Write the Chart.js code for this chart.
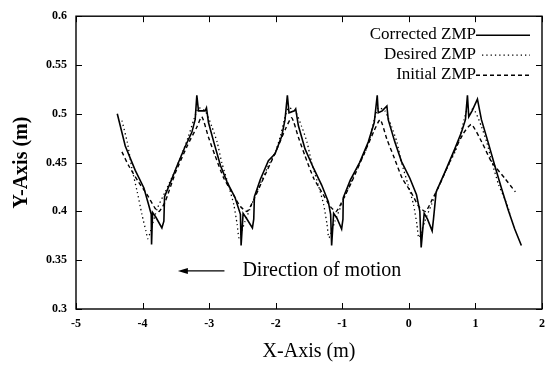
<!DOCTYPE html>
<html>
<head>
<meta charset="utf-8">
<script src="https://cdn.jsdelivr.net/npm/chart.js@4.4.0/dist/chart.umd.min.js"></script>
<style>
  html, body { margin: 0; padding: 0; background: #fff; }
  #wrap { position: relative; width: 553px; height: 365px; }
</style>
</head>
<body>
<div id="wrap"><canvas id="zmpChart" width="553" height="365"></canvas></div>
<script>
// Corrected ZMP (linea continua)
const correctedX = [-4.38, -4.26, -4.11, -3.98, -3.91, -3.87, -3.865, -3.85, -3.80, -3.71, -3.68, -3.67, -3.58, -3.48, -3.37, -3.26, -3.21, -3.185, -3.16, -3.06, -3.04, -3.01, -2.93, -2.83, -2.73, -2.61, -2.53, -2.52, -2.49, -2.44, -2.35, -2.33, -2.32, -2.23, -2.11, -2.01, -1.91, -1.86, -1.825, -1.80, -1.72, -1.70, -1.66, -1.56, -1.43, -1.31, -1.21, -1.175, -1.16, -1.13, -1.08, -1.01, -0.99, -0.985, -0.88, -0.74, -0.61, -0.52, -0.475, -0.46, -0.40, -0.33, -0.31, -0.21, -0.11, 0.015, 0.115, 0.165, 0.185, 0.23, 0.28, 0.35, 0.37, 0.41, 0.54, 0.69, 0.79, 0.85, 0.88, 0.90, 0.95, 1.03, 1.09, 1.19, 1.29, 1.39, 1.49, 1.59, 1.69];
const correctedY = [0.500, 0.467, 0.442, 0.424, 0.407, 0.397, 0.366, 0.399, 0.394, 0.383, 0.390, 0.415, 0.430, 0.447, 0.465, 0.481, 0.494, 0.519, 0.503, 0.503, 0.506, 0.491, 0.471, 0.447, 0.430, 0.414, 0.397, 0.365, 0.398, 0.393, 0.383, 0.392, 0.415, 0.433, 0.452, 0.459, 0.477, 0.494, 0.519, 0.501, 0.503, 0.505, 0.488, 0.464, 0.444, 0.427, 0.410, 0.397, 0.365, 0.398, 0.393, 0.382, 0.392, 0.414, 0.432, 0.450, 0.471, 0.491, 0.519, 0.501, 0.503, 0.508, 0.494, 0.471, 0.451, 0.434, 0.417, 0.400, 0.363, 0.398, 0.392, 0.380, 0.392, 0.420, 0.440, 0.464, 0.481, 0.494, 0.519, 0.497, 0.503, 0.515, 0.494, 0.471, 0.447, 0.424, 0.402, 0.382, 0.365];

// Desired ZMP (punteada)
const desiredX = [-4.31, -4.23, -4.16, -4.08, -4.01, -3.95, -3.92, -3.88, -3.78, -3.66, -3.51, -3.38, -3.31, -3.23, -3.16, -3.06, -2.96, -2.88, -2.81, -2.71, -2.63, -2.58, -2.55, -2.46, -2.36, -2.26, -2.13, -2.00, -1.93, -1.87, -1.81, -1.71, -1.61, -1.53, -1.46, -1.36, -1.28, -1.23, -1.20, -1.11, -1.01, -0.91, -0.78, -0.65, -0.58, -0.52, -0.46, -0.36, -0.26, -0.18, -0.11, -0.01, 0.07, 0.12, 0.15, 0.24, 0.34, 0.44, 0.57, 0.70, 0.77, 0.83, 0.89, 0.99, 1.09, 1.17, 1.25, 1.35, 1.44, 1.52];
const desiredY = [0.493, 0.471, 0.444, 0.420, 0.397, 0.380, 0.372, 0.380, 0.403, 0.420, 0.442, 0.464, 0.477, 0.494, 0.506, 0.503, 0.487, 0.471, 0.450, 0.427, 0.407, 0.387, 0.373, 0.390, 0.407, 0.424, 0.444, 0.462, 0.477, 0.494, 0.506, 0.503, 0.487, 0.471, 0.450, 0.427, 0.407, 0.387, 0.373, 0.390, 0.407, 0.424, 0.444, 0.462, 0.477, 0.494, 0.506, 0.503, 0.487, 0.471, 0.450, 0.427, 0.407, 0.387, 0.373, 0.390, 0.407, 0.424, 0.444, 0.462, 0.477, 0.494, 0.506, 0.503, 0.487, 0.471, 0.450, 0.427, 0.413, 0.398];

// Initial ZMP (discontinua)
const initialX = [-4.31, -4.21, -4.06, -3.93, -3.81, -3.75, -3.66, -3.51, -3.33, -3.18, -3.11, -3.01, -2.91, -2.78, -2.66, -2.53, -2.43, -2.33, -2.21, -2.00, -1.85, -1.76, -1.66, -1.56, -1.43, -1.31, -1.18, -1.09, -0.99, -0.86, -0.66, -0.52, -0.43, -0.33, -0.22, -0.10, 0.03, 0.15, 0.25, 0.35, 0.48, 0.68, 0.82, 0.94, 1.11, 1.24, 1.44, 1.60];
const initialY = [0.461, 0.447, 0.430, 0.417, 0.403, 0.400, 0.410, 0.439, 0.467, 0.487, 0.497, 0.476, 0.457, 0.434, 0.420, 0.405, 0.400, 0.412, 0.430, 0.461, 0.485, 0.496, 0.476, 0.457, 0.434, 0.420, 0.405, 0.400, 0.412, 0.430, 0.461, 0.483, 0.494, 0.474, 0.455, 0.434, 0.420, 0.405, 0.400, 0.412, 0.430, 0.461, 0.480, 0.489, 0.469, 0.451, 0.434, 0.420];

const seriesNames = ['Corrected ZMP', 'Desired ZMP', 'Initial ZMP'];
const xTicks = [-5, -4, -3, -2, -1, 0, 1, 2];
const yTicks = [0.3, 0.35, 0.4, 0.45, 0.5, 0.55, 0.6];
const annotationText = 'Direction of motion';

const serif = "'Liberation Serif', 'DejaVu Serif', serif";

function toPoints(xs, ys) {
    return xs.map((x, i) => ({ x: x, y: ys[i] }));
}

// Marco y marcas hacia dentro (estilo gnuplot)
const framePlugin = {
    id: 'frame',
    afterDatasetsDraw(chart) {
        const ctx = chart.ctx;
        const a = chart.chartArea;
        const xs = chart.scales.x;
        const ys = chart.scales.y;
        const len = 6;
        ctx.save();
        ctx.strokeStyle = '#000';
        ctx.lineWidth = 1;
        ctx.beginPath();
        xTicks.forEach(v => {
            const px = Math.round(xs.getPixelForValue(v)) + 0.5;
            ctx.moveTo(px, a.bottom); ctx.lineTo(px, a.bottom - len);
            ctx.moveTo(px, a.top); ctx.lineTo(px, a.top + len);
        });
        yTicks.forEach(v => {
            const py = Math.round(ys.getPixelForValue(v)) + 0.5;
            ctx.moveTo(a.left, py); ctx.lineTo(a.left + len, py);
            ctx.moveTo(a.right, py); ctx.lineTo(a.right - len, py);
        });
        ctx.stroke();
        ctx.lineWidth = 1.4;
        ctx.strokeRect(a.left, a.top, a.right - a.left, a.bottom - a.top);
        ctx.restore();
    }
};

// Leyenda: texto a la izquierda y muestra de linea a la derecha
const legendPlugin = {
    id: 'gnuLegend',
    afterDatasetsDraw(chart) {
        const ctx = chart.ctx;
        const a = chart.chartArea;
        const textRight = a.right - 66;
        const lineStart = a.right - 66;
        const lineEnd = a.right - 12;
        const rowY = [a.top + 18, a.top + 38, a.top + 58];
        ctx.save();
        ctx.font = '17px ' + serif;
        ctx.textAlign = 'right';
        ctx.textBaseline = 'middle';
        chart.data.datasets.forEach((ds, i) => {
            ctx.fillStyle = '#000';
            ctx.fillText(ds.label, textRight, rowY[i]);
            ctx.strokeStyle = ds.borderColor;
            ctx.lineWidth = ds.borderWidth;
            ctx.setLineDash(ds.borderDash || []);
            ctx.beginPath();
            ctx.moveTo(lineStart + (i === 1 ? 6 : 0), rowY[i] + 1);
            ctx.lineTo(lineEnd, rowY[i] + 1);
            ctx.stroke();
        });
        ctx.restore();
    }
};

// Flecha con "Direction of motion"
const arrowPlugin = {
    id: 'arrowNote',
    afterDatasetsDraw(chart) {
        const ctx = chart.ctx;
        const xs = chart.scales.x;
        const ys = chart.scales.y;
        const y = ys.getPixelForValue(0.339);
        const x0 = xs.getPixelForValue(-2.77);
        const x1 = xs.getPixelForValue(-3.47);
        ctx.save();
        ctx.strokeStyle = '#000';
        ctx.fillStyle = '#000';
        ctx.lineWidth = 1.2;
        ctx.beginPath();
        ctx.moveTo(x0, y);
        ctx.lineTo(x1 + 4, y);
        ctx.stroke();
        ctx.beginPath();
        ctx.moveTo(x1, y);
        ctx.lineTo(x1 + 10, y - 3);
        ctx.lineTo(x1 + 10, y + 3);
        ctx.closePath();
        ctx.fill();
        ctx.font = '20px ' + serif;
        ctx.textAlign = 'left';
        ctx.textBaseline = 'middle';
        ctx.fillText(annotationText, xs.getPixelForValue(-2.5), y);
        ctx.restore();
    }
};

const tickLabel = (v) => String(+Number(v).toFixed(2));

const ctx = document.getElementById('zmpChart');
new Chart(ctx, {
    type: 'scatter',
    data: {
        datasets: [{
            label: seriesNames[0],
            data: toPoints(correctedX, correctedY),
            showLine: true,
            borderColor: '#000',
            borderWidth: 1.6,
            pointRadius: 0,
            tension: 0
        }, {
            label: seriesNames[1],
            data: toPoints(desiredX, desiredY),
            showLine: true,
            borderColor: '#000',
            borderWidth: 1.3,
            borderDash: [1.3, 3],
            pointRadius: 0,
            tension: 0.2
        }, {
            label: seriesNames[2],
            data: toPoints(initialX, initialY),
            showLine: true,
            borderColor: '#000',
            borderWidth: 1.4,
            borderDash: [4, 3],
            pointRadius: 0,
            tension: 0.2
        }]
    },
    options: {
        responsive: false,
        animation: false,
        layout: {
            padding: { top: 12, right: 10, left: 0, bottom: 0 }
        },
        plugins: {
            legend: { display: false },
            tooltip: { enabled: false }
        },
        scales: {
            x: {
                type: 'linear',
                min: -5,
                max: 2,
                afterBuildTicks: (scale) => { scale.ticks = xTicks.map(v => ({ value: v })); },
                afterFit: (scale) => { scale.height = 56; },
                grid: { display: false, drawTicks: false },
                border: { display: false },
                ticks: {
                    padding: 8,
                    color: '#000',
                    callback: tickLabel,
                    font: { family: serif, size: 12, weight: 'bold' }
                },
                title: {
                    display: true,
                    text: 'X-Axis (m)',
                    color: '#000',
                    padding: { top: 12, bottom: 1 },
                    font: { family: serif, size: 20 }
                }
            },
            y: {
                type: 'linear',
                min: 0.3,
                max: 0.6,
                afterBuildTicks: (scale) => { scale.ticks = yTicks.map(v => ({ value: v })); },
                afterFit: (scale) => { scale.width = 76; },
                grid: { display: false, drawTicks: false },
                border: { display: false },
                ticks: {
                    padding: 9,
                    color: '#000',
                    callback: tickLabel,
                    font: { family: serif, size: 12, weight: 'bold' }
                },
                title: {
                    display: true,
                    text: 'Y-Axis (m)',
                    color: '#000',
                    padding: { top: 10, bottom: 0 },
                    font: { family: serif, size: 20, weight: 'bold' }
                }
            }
        }
    },
    plugins: [framePlugin, legendPlugin, arrowPlugin]
});
</script>
</body>
</html>
